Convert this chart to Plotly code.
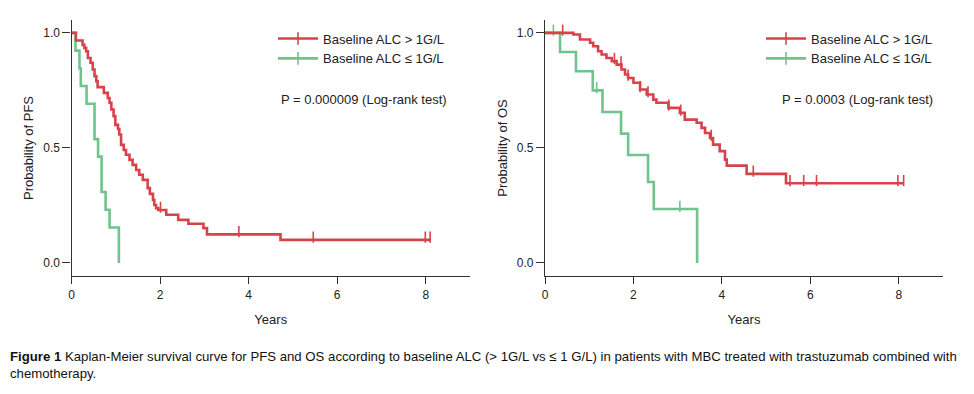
import numpy as np
import plotly.graph_objects as go

# ---------------- data ----------------
legend_names = ["Baseline ALC > 1G/L", "Baseline ALC \u2264 1G/L"]

# PFS, ALC > 1 G/L
pfs_hi_t = [0, 0.10, 0.25, 0.29, 0.33, 0.37, 0.43, 0.48, 0.52, 0.56, 0.59, 0.73, 0.82,
            0.86, 0.90, 0.95, 0.99, 1.05, 1.08, 1.12, 1.18, 1.23, 1.31, 1.38, 1.46, 1.53,
            1.61, 1.72, 1.77, 1.84, 1.87, 1.91, 1.96, 2.14, 2.41, 2.64, 2.98, 3.06, 4.72, 8.10]
pfs_hi_s = [1.0, 0.967, 0.948, 0.935, 0.920, 0.891, 0.870, 0.841, 0.812, 0.790, 0.764, 0.739, 0.717,
            0.696, 0.667, 0.638, 0.600, 0.582, 0.558, 0.513, 0.491, 0.470, 0.448, 0.426, 0.404, 0.383,
            0.361, 0.325, 0.300, 0.274, 0.252, 0.238, 0.230, 0.209, 0.187, 0.170, 0.151, 0.124, 0.100, 0.100]
pfs_hi_censor = [2.01, 3.78, 5.46, 7.99, 8.10]

# PFS, ALC <= 1 G/L
pfs_lo_t = [0, 0.09, 0.18, 0.21, 0.34, 0.52, 0.60, 0.68, 0.77, 0.86, 1.07]
pfs_lo_s = [1.0, 0.923, 0.846, 0.769, 0.692, 0.538, 0.462, 0.308, 0.231, 0.154, 0.0]
pfs_lo_censor = []

# OS, ALC > 1 G/L
os_hi_t = [0, 0.64, 0.79, 1.02, 1.09, 1.20, 1.28, 1.39, 1.51, 1.62, 1.73, 1.81, 1.88, 2.00,
           2.15, 2.30, 2.45, 2.52, 2.79, 3.05, 3.16, 3.43, 3.54, 3.62, 3.73, 3.80, 3.95, 4.07,
           4.11, 4.56, 5.45, 8.11]
os_hi_s = [1.0, 0.993, 0.971, 0.957, 0.942, 0.920, 0.906, 0.891, 0.877, 0.862, 0.841, 0.819, 0.804, 0.783,
           0.754, 0.732, 0.710, 0.696, 0.674, 0.652, 0.623, 0.609, 0.587, 0.565, 0.543, 0.514, 0.486, 0.449,
           0.423, 0.387, 0.346, 0.346]
os_hi_censor = [0.40, 1.57, 1.72, 1.88, 2.15, 2.33, 2.80, 3.07, 3.76, 4.71, 5.54, 5.85, 6.14, 7.98, 8.11]

# OS, ALC <= 1 G/L
os_lo_t = [0, 0.34, 0.70, 1.08, 1.30, 1.72, 1.88, 2.33, 2.46, 3.44]
os_lo_s = [1.0, 0.917, 0.833, 0.750, 0.656, 0.562, 0.469, 0.352, 0.234, 0.0]
os_lo_censor = [0.19, 1.17, 3.05]

p_texts = ["P = 0.000009 (Log-rank test)", "P = 0.0003 (Log-rank test)"]
y_titles = ["Probability of PFS", "Probability of OS"]
x_ticks = [0, 2, 4, 6, 8]
y_ticks = [0.0, 0.5, 1.0]
y_ticktext = ["0.0", "0.5", "1.0"]
caption = ("<b>Figure 1</b> Kaplan-Meier survival curve for PFS and OS according to baseline ALC "
           "(&gt; 1G/L vs \u2264 1 G/L) in patients with MBC treated with trastuzumab combined with"
           "<br>chemotherapy.")

# ---------------- styling ----------------
RED = "#d6434a"
GREEN = "#6fc38c"
AX = "#333333"
FONT = "Liberation Sans, Arial, sans-serif"
W, H = 974, 394


def step_value(t_arr, s_arr, t):
    idx = np.searchsorted(np.asarray(t_arr), t, side="right") - 1
    return np.asarray(s_arr)[idx]


fig = go.Figure()

panels = [
    (pfs_hi_t, pfs_hi_s, pfs_hi_censor, pfs_lo_t, pfs_lo_s, pfs_lo_censor),
    (os_hi_t, os_hi_s, os_hi_censor, os_lo_t, os_lo_s, os_lo_censor),
]

tick_off = 0.012  # lift censor ticks so they sit on top of the line

for i, (ht, hs, hc, lt, ls, lc) in enumerate(panels):
    xa = "x" if i == 0 else "x2"
    ya = "y" if i == 0 else "y2"
    leg = "legend" if i == 0 else "legend2"
    for t, s, c, col in [(lt, ls, lc, GREEN), (ht, hs, hc, RED)]:
        fig.add_trace(go.Scatter(x=t, y=s, mode="lines", line=dict(color=col, width=2.6, shape="hv"),
                                 xaxis=xa, yaxis=ya, showlegend=False, hoverinfo="skip"))
        if len(c):
            cy = step_value(t, s, np.asarray(c)) + tick_off
            fig.add_trace(go.Scatter(x=c, y=cy, mode="markers",
                                     marker=dict(symbol="line-ns", size=8, color=col,
                                                 line=dict(width=1.6, color=col)),
                                     xaxis=xa, yaxis=ya, showlegend=False, hoverinfo="skip"))
    for name, col in zip(legend_names, [RED, GREEN]):
        fig.add_trace(go.Scatter(x=[None], y=[None], mode="lines+markers", name=name,
                                 line=dict(color=col, width=2.6),
                                 marker=dict(symbol="line-ns", size=9, color=col,
                                             line=dict(width=1.6, color=col)),
                                 xaxis=xa, yaxis=ya, legend=leg))

xdoms = [[71.5 / W, 470 / W], [545 / W, 943 / W]]
ydom = [(H - 276) / H, (H - 20) / H]

axis_common = dict(showline=True, linecolor=AX, linewidth=1.2, showgrid=False, zeroline=False,
                   ticks="outside", tickcolor=AX, tickwidth=1.2, automargin=False,
                   tickfont=dict(family=FONT, size=12, color="#222"))

for i in range(2):
    sx = "" if i == 0 else "2"
    fig.layout["xaxis" + sx] = dict(axis_common, domain=xdoms[i], range=[0, 9], tickvals=x_ticks,
                                    ticklen=7, anchor="y" + sx,
                                    title=dict(text="Years", font=dict(family=FONT, size=13, color="#222"),
                                               standoff=14))
    fig.layout["yaxis" + sx] = dict(axis_common, domain=ydom, range=[-0.057, 1.056], tickvals=y_ticks,
                                    ticktext=y_ticktext, ticklen=8, anchor="x" + sx,
                                    title=dict(text=y_titles[i], font=dict(family=FONT, size=13, color="#222"),
                                               standoff=6))

leg_common = dict(font=dict(family=FONT, size=13, color="#222"), bgcolor="rgba(0,0,0,0)",
                  xanchor="left", yanchor="top", tracegroupgap=0, itemwidth=40)
fig.update_layout(
    width=W, height=H, margin=dict(l=0, r=0, t=0, b=0, autoexpand=False),
    paper_bgcolor="white", plot_bgcolor="white",
    legend=dict(leg_common, x=273 / W, y=(H - 23.5) / H),
    legend2=dict(leg_common, x=761 / W, y=(H - 23.5) / H),
)

fig.add_annotation(text=p_texts[0], xref="paper", yref="paper", x=364 / W, y=(H - 99) / H,
                   xanchor="center", yanchor="middle",
                   showarrow=False, font=dict(family=FONT, size=13, color="#222"))
fig.add_annotation(text=p_texts[1], xref="paper", yref="paper", x=857 / W, y=(H - 99) / H,
                   xanchor="center", yanchor="middle",
                   showarrow=False, font=dict(family=FONT, size=13, color="#222"))
fig.add_annotation(text=caption, xref="paper", yref="paper", x=8 / W, y=(H - 347) / H,
                   xanchor="left", yanchor="top", align="left", showarrow=False,
                   font=dict(family=FONT, size=13.2, color="#111"))

fig.write_html("out.html", config={"displayModeBar": False},
               post_script="document.body.style.margin='0px';")
